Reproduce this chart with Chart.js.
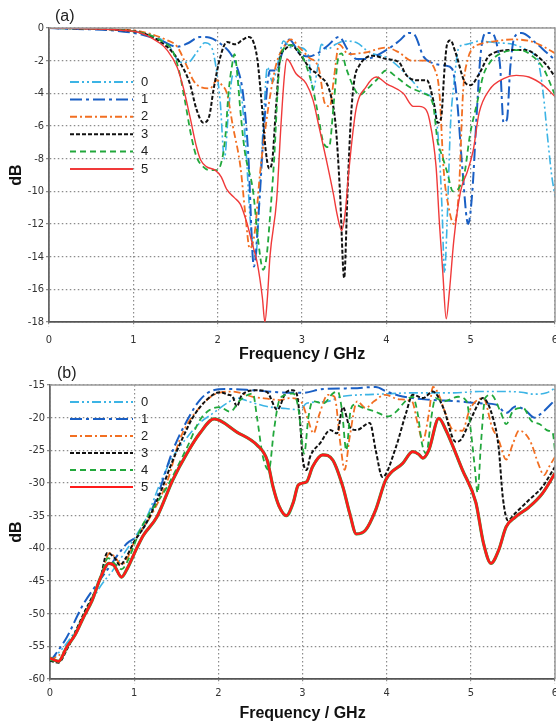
<!DOCTYPE html>
<html>
<head>
<meta charset="utf-8">
<title>S-parameter curves</title>
<script src="https://cdn.jsdelivr.net/npm/chart.js@4.4.1/dist/chart.umd.min.js"></script>
<style>
  html, body { margin: 0; padding: 0; background: #fff; }
  #wrap { position: relative; width: 556px; height: 723px; overflow: hidden; }
  #wrap canvas { position: absolute; left: 0; }
  #chartA { top: 0; }
  #chartB { top: 366px; }
  .panel { position: absolute; font: 16px "Liberation Sans", Arial, sans-serif; color: #222; line-height: 18px; }
</style>
</head>
<body>
<div id="wrap">
  <canvas id="chartA" width="556" height="366"></canvas>
  <canvas id="chartB" width="556" height="357"></canvas>
  <div class="panel" style="left:55px; top:7px">(a)</div>
  <div class="panel" style="left:57px; top:364px">(b)</div>
</div>

<script>
// legend labels / series styles
const names = ['0', '1', '2', '3', '4', '5']
const colors = ['#3cb4e5', '#1a5fc4', '#f26f22', '#111111', '#22a83c', '#f03a3a']
const dashes = [[9, 3, 2, 3, 2, 3], [12, 4, 3, 4], [7, 3, 2, 3], [4, 2], [6, 4], []]

// x axis ticks (GHz)
const freqTicks = [0, 1, 2, 3, 4, 5, 6]

// (a) curves: [frequency GHz, dB]
const a0 = [[0,0],[1.0,-0.2],[1.3,-0.6],[1.45,-1.3],[1.55,-2.1],[1.65,-2.1],[1.75,-1.5],[1.85,-0.9],[1.93,-1.2],[1.98,-2.4],[2.03,-4.5],[2.08,-8],[2.13,-5],[2.18,-2.9],[2.27,-3.7],[2.33,-7],[2.39,-12],[2.45,-14],[2.5,-10],[2.55,-5],[2.59,-2.4],[2.65,-3.3],[2.72,-2.0],[2.78,-0.8],[2.87,-1.2],[2.97,-1.2],[3.07,-1.6],[3.13,-3.8],[3.18,-2.6],[3.23,-1.0],[3.3,-1.3],[3.4,-1.0],[3.5,-0.8],[3.65,-0.9],[3.8,-1.5],[4.0,-1.8],[4.15,-2.4],[4.3,-3.2],[4.45,-4.0],[4.55,-4.4],[4.62,-7],[4.66,-11],[4.69,-15],[4.72,-12],[4.76,-6],[4.8,-3.5],[4.86,-1.2],[4.95,-1.0],[5.1,-0.8],[5.3,-0.9],[5.5,-1.0],[5.65,-1.3],[5.75,-1.6],[5.8,-2.0],[5.86,-4.0],[5.91,-6.6],[5.96,-9.0],[6.0,-10.3]]
const a1 = [[0,0],[1.0,-0.3],[1.32,-0.75],[1.52,-1.15],[1.64,-0.95],[1.79,-0.55],[1.91,-0.6],[2.03,-0.95],[2.15,-1.55],[2.23,-2.4],[2.3,-4.0],[2.36,-7.5],[2.43,-14.6],[2.49,-11],[2.55,-6],[2.62,-2.6],[2.7,-2.6],[2.76,-1.6],[2.85,-0.7],[2.97,-1.55],[3.08,-1.75],[3.2,-1.5],[3.3,-1.1],[3.44,-0.55],[3.55,-1.4],[3.65,-1.9],[3.75,-1.9],[4.0,-1.35],[4.15,-0.8],[4.27,-0.3],[4.34,-0.45],[4.44,-1.75],[4.55,-2.15],[4.7,-2.3],[4.78,-2.5],[4.84,-4.5],[4.9,-8.5],[4.97,-12],[5.02,-10],[5.07,-5.4],[5.12,-1.5],[5.18,-0.3],[5.25,-0.3],[5.31,-1.0],[5.35,-2.4],[5.39,-5.8],[5.43,-5.6],[5.47,-2.4],[5.52,-0.55],[5.6,-0.3],[5.78,-0.95],[5.9,-1.5],[6.0,-1.95]]
const a2 = [[0,0],[1.0,-0.15],[1.4,-0.75],[1.52,-1.15],[1.64,-2.4],[1.71,-3.2],[1.79,-3.6],[1.91,-3.7],[1.99,-3.2],[2.05,-3.5],[2.11,-4.0],[2.18,-6.0],[2.27,-8.5],[2.33,-11.5],[2.38,-13.5],[2.44,-12.5],[2.5,-9],[2.57,-6],[2.63,-3.9],[2.7,-2.1],[2.78,-1.2],[2.87,-0.7],[2.97,-1.2],[3.08,-1.8],[3.2,-2.5],[3.27,-4.6],[3.33,-4.8],[3.38,-3.0],[3.44,-1.0],[3.55,-1.6],[3.75,-1.5],[4.0,-1.2],[4.15,-1.5],[4.3,-2.0],[4.45,-2.0],[4.58,-2.6],[4.63,-4],[4.68,-8.7],[4.74,-11],[4.8,-12],[4.86,-10],[4.91,-3.9],[4.97,-1.85],[5.03,-1.2],[5.1,-1.0],[5.3,-0.8],[5.5,-0.7],[5.7,-0.8],[5.85,-1.1],[6.0,-1.55]]
const a3 = [[0,0],[1.0,-0.2],[1.4,-1.15],[1.55,-2.1],[1.67,-3.4],[1.75,-5.0],[1.83,-5.8],[1.9,-5.4],[1.95,-3.8],[2.03,-1.8],[2.11,-0.85],[2.21,-1.0],[2.3,-0.7],[2.37,-0.55],[2.42,-0.8],[2.47,-1.9],[2.52,-4.5],[2.57,-7.5],[2.61,-8.6],[2.65,-8.0],[2.69,-5.0],[2.74,-1.85],[2.8,-1.3],[2.87,-1.05],[2.98,-1.65],[3.1,-2.5],[3.2,-2.9],[3.33,-3.9],[3.4,-6],[3.45,-10],[3.5,-15.3],[3.54,-10],[3.58,-5.5],[3.62,-3.2],[3.68,-2.3],[3.84,-1.7],[4.0,-1.9],[4.15,-2.1],[4.24,-2.9],[4.36,-3.2],[4.48,-3.2],[4.56,-4.5],[4.61,-5.8],[4.65,-5.5],[4.69,-2.5],[4.72,-1.0],[4.76,-0.75],[4.82,-1.5],[4.93,-3.3],[5.0,-3.5],[5.09,-2.9],[5.23,-1.65],[5.5,-1.35],[5.65,-1.35],[5.82,-1.85],[5.92,-2.4],[6.0,-3.0]]
const a4 = [[0,0],[1.0,-0.2],[1.35,-0.85],[1.47,-1.45],[1.55,-2.8],[1.61,-4.4],[1.69,-6.7],[1.75,-7.9],[1.83,-8.5],[1.9,-8.7],[1.98,-8.7],[2.04,-8.3],[2.09,-6.7],[2.13,-3.9],[2.17,-2.3],[2.2,-1.6],[2.23,-2.7],[2.27,-5.1],[2.32,-7.5],[2.42,-10],[2.48,-13],[2.54,-14.8],[2.58,-14],[2.62,-11.6],[2.67,-8],[2.72,-3.1],[2.76,-1.5],[2.86,-1.05],[2.98,-1.5],[3.06,-2.45],[3.12,-3.5],[3.18,-5.0],[3.26,-7.1],[3.32,-7.3],[3.38,-4.4],[3.43,-1.8],[3.47,-1.55],[3.52,-2.4],[3.61,-3.6],[3.68,-4.1],[3.76,-3.8],[3.88,-3.2],[4.0,-2.6],[4.12,-3.0],[4.27,-3.6],[4.44,-4.0],[4.55,-4.6],[4.61,-7],[4.66,-7.8],[4.72,-8.8],[4.79,-10],[4.86,-9.8],[4.93,-8.8],[4.99,-6.6],[5.08,-4.5],[5.15,-2.9],[5.23,-2.1],[5.38,-1.5],[5.58,-1.35],[5.74,-1.75],[5.86,-2.45],[6.0,-4.1]]
const a5 = [[0,0],[1.0,-0.2],[1.32,-0.95],[1.4,-1.35],[1.52,-2.4],[1.59,-3.6],[1.67,-5.4],[1.75,-7.3],[1.8,-8.1],[1.87,-8.5],[1.97,-8.7],[2.04,-9.1],[2.11,-9.9],[2.2,-10.4],[2.27,-10.8],[2.35,-12],[2.41,-13.2],[2.47,-14.4],[2.53,-16.5],[2.56,-18],[2.59,-16.5],[2.62,-14],[2.7,-10.5],[2.75,-6],[2.79,-3],[2.82,-1.9],[2.93,-2.8],[3.05,-3.4],[3.13,-4.4],[3.2,-6.0],[3.29,-8.1],[3.37,-10.1],[3.42,-11.5],[3.47,-12.4],[3.51,-11.4],[3.56,-8.5],[3.64,-5.0],[3.76,-3.6],[3.88,-3.0],[4.0,-3.4],[4.2,-4.0],[4.32,-4.8],[4.39,-4.8],[4.47,-5.0],[4.51,-5.6],[4.59,-8.5],[4.63,-12],[4.67,-15],[4.71,-17.8],[4.75,-16],[4.8,-13],[4.88,-10],[4.96,-8.8],[5.03,-7.5],[5.1,-5.2],[5.22,-3.8],[5.39,-3.1],[5.54,-2.9],[5.69,-3.0],[5.86,-3.5],[6.0,-4.2]]

// (b) curves: [frequency GHz, dB]
const b0 = [[0,-57.4],[0.2,-54.5],[0.4,-50.5],[0.59,-46],[0.75,-43.3],[0.91,-40.2],[1.0,-38.5],[1.15,-35.2],[1.31,-30],[1.46,-26],[1.63,-23],[1.78,-20.8],[1.94,-19.3],[2.1,-17.8],[2.22,-17],[2.38,-17.6],[2.58,-18.3],[2.8,-18.6],[2.97,-18.8],[3.05,-17.8],[3.3,-17.5],[3.45,-16.8],[3.7,-16.5],[3.92,-16.4],[4.3,-16.2],[4.8,-16.2],[5.1,-16],[5.4,-16],[5.6,-16.1],[5.75,-16.4],[5.9,-16.2],[6.0,-15.5]]
const b1 = [[0,-57.4],[0.2,-53.6],[0.39,-48.7],[0.59,-44.9],[0.68,-43.3],[0.91,-39.3],[1.07,-37.7],[1.27,-32.2],[1.46,-25],[1.63,-20.4],[1.78,-17.3],[1.94,-15.8],[2.1,-15.6],[2.4,-15.8],[2.7,-16.1],[3.0,-16.2],[3.25,-15.6],[3.6,-15.5],[3.87,-15.3],[4.0,-16],[4.14,-16.6],[4.45,-17.2],[4.85,-17.5],[5.1,-17.8],[5.3,-18],[5.42,-19.3],[5.53,-18.3],[5.64,-18.8],[5.76,-20],[5.85,-19.2],[6.0,-17.3]]
const b2 = [[0,-57.2],[0.2,-55.3],[0.4,-50.5],[0.6,-44.5],[0.71,-40.7],[0.78,-41.5],[0.85,-42.5],[0.92,-41.5],[1.0,-39],[1.2,-35],[1.4,-29.5],[1.54,-23.4],[1.78,-18.4],[1.98,-16.3],[2.17,-16],[2.41,-16.8],[2.58,-17.1],[2.73,-17.3],[2.85,-17.0],[2.98,-17.5],[3.07,-20.5],[3.13,-22.4],[3.2,-19.5],[3.3,-16.5],[3.38,-16.8],[3.45,-24],[3.5,-28],[3.56,-23],[3.65,-17.5],[3.75,-18.5],[3.85,-17.5],[3.98,-16.5],[4.15,-17.2],[4.3,-17.5],[4.37,-21],[4.43,-23.5],[4.5,-19.5],[4.55,-15.3],[4.62,-16.5],[4.7,-19.4],[4.79,-21.9],[4.9,-22],[4.98,-19],[5.05,-17.6],[5.15,-17],[5.25,-21.4],[5.33,-23.4],[5.42,-26.4],[5.5,-24],[5.57,-22],[5.65,-22.5],[5.72,-24],[5.8,-27],[5.87,-28.8],[5.93,-27.5],[6.0,-26]]
const b3 = [[0,-57.2],[0.1,-57.5],[0.2,-55.5],[0.4,-50],[0.6,-44.5],[0.68,-40.7],[0.77,-41.5],[0.83,-42.6],[0.9,-41.5],[1.0,-39],[1.15,-36],[1.31,-31.5],[1.46,-26.5],[1.58,-23],[1.7,-19.9],[1.86,-17.3],[2.02,-16.1],[2.12,-16.5],[2.17,-16.8],[2.22,-18.3],[2.28,-16.5],[2.46,-15.8],[2.58,-16.1],[2.7,-18.8],[2.8,-16.2],[2.88,-15.8],[2.93,-16.3],[2.97,-20.4],[3.0,-26],[3.05,-28],[3.09,-26],[3.21,-23.9],[3.33,-21.9],[3.41,-22.4],[3.48,-18.4],[3.56,-21.4],[3.64,-21.9],[3.8,-20.8],[3.87,-25],[3.95,-29.1],[4.11,-24.5],[4.23,-19.3],[4.31,-16.5],[4.43,-17],[4.55,-16],[4.67,-18.4],[4.82,-23.7],[4.88,-23.4],[4.98,-20.8],[5.1,-17.6],[5.14,-17],[5.26,-19.9],[5.33,-24.5],[5.38,-32.2],[5.44,-35.7],[5.53,-34.6],[5.69,-32.6],[5.85,-30.6],[6.0,-27.5]]
const b4 = [[0,-57.1],[0.1,-57.3],[0.2,-55.3],[0.4,-50.5],[0.6,-44.5],[0.69,-41.5],[0.78,-42.5],[0.85,-43.2],[0.92,-42],[1.0,-39.5],[1.07,-37.2],[1.39,-30.6],[1.63,-24.5],[1.78,-20.4],[1.9,-18.8],[2.02,-18.4],[2.14,-19.1],[2.26,-17.3],[2.41,-16.3],[2.46,-20],[2.53,-26],[2.6,-28],[2.66,-22],[2.72,-17.5],[2.8,-16.5],[2.89,-16.3],[2.95,-18.5],[3.02,-25.5],[3.07,-20],[3.12,-17.5],[3.25,-17.8],[3.36,-16.3],[3.42,-16],[3.47,-19],[3.52,-25],[3.57,-19],[3.62,-18],[3.72,-18.5],[3.85,-19],[4.02,-19.8],[4.12,-19],[4.22,-17.5],[4.31,-16.8],[4.37,-19.5],[4.42,-24],[4.47,-25.5],[4.53,-20],[4.58,-17],[4.68,-17.5],[4.85,-16.8],[4.95,-17.5],[5.0,-22],[5.05,-28],[5.08,-31.5],[5.12,-24],[5.17,-17],[5.24,-16.5],[5.35,-19],[5.42,-21],[5.5,-19],[5.62,-18.5],[5.72,-20.5],[5.82,-21],[5.92,-22],[5.97,-22.2],[6.0,-25]]
const b5 = [[0,-56.8],[0.1,-57.3],[0.2,-55.1],[0.3,-53.2],[0.4,-50.5],[0.5,-48],[0.6,-44.5],[0.7,-42.3],[0.76,-42.6],[0.85,-44.4],[0.91,-43.3],[1.03,-40],[1.11,-38],[1.27,-35.2],[1.46,-29.5],[1.63,-25.4],[1.78,-22.4],[1.95,-20.2],[2.22,-22.2],[2.46,-24.2],[2.58,-26.5],[2.65,-30.6],[2.72,-33.5],[2.81,-35],[2.89,-33],[2.95,-30.3],[3.05,-29.8],[3.12,-27.5],[3.24,-25.7],[3.36,-26.5],[3.48,-30.6],[3.56,-34.6],[3.64,-37.8],[3.75,-37.2],[3.87,-34.1],[3.99,-29.5],[4.19,-27],[4.31,-25.2],[4.38,-25.6],[4.43,-26.2],[4.5,-25],[4.62,-20.1],[4.7,-21.8],[4.9,-28],[5.06,-33],[5.15,-39.2],[5.24,-42.3],[5.33,-40.3],[5.42,-36.7],[5.53,-35.2],[5.69,-33.7],[5.85,-31.6],[6.0,-28.5]]

const tickFont = { family: '"Liberation Sans Narrow", "DejaVu Sans Condensed", "Liberation Sans", sans-serif', size: 11 }
const titleFont = { family: '"Liberation Sans", Arial, sans-serif', size: 16, weight: 'bold' }

const toPoints = pairs => pairs.map(([x, y]) => ({ x, y }))

function buildDatasets(series, widths) {
  return series.map((pairs, i) => ({
    label: names[i],
    data: toPoints(pairs),
    borderColor: colors[i],
    borderWidth: widths[i],
    borderDash: dashes[i],
    order: names.length - i, // later series on top
    pointRadius: 0,
    cubicInterpolationMode: 'monotone',
    fill: false
  }))
}

// legend drawn inside the plot, left side
const insideLegend = {
  id: 'insideLegend',
  afterDatasetsDraw(chart, args, opts) {
    const { ctx } = chart
    ctx.save()
    ctx.font = '13px "Liberation Sans", Arial, sans-serif'
    ctx.textBaseline = 'middle'
    ctx.fillStyle = '#222'
    names.forEach((name, i) => {
      const ds = chart.data.datasets[i]
      const y = opts.top + i * opts.step
      ctx.strokeStyle = ds.borderColor
      ctx.lineWidth = 2
      ctx.setLineDash(ds.borderDash)
      ctx.beginPath()
      ctx.moveTo(70, y)
      ctx.lineTo(133, y)
      ctx.stroke()
      ctx.setLineDash([])
      ctx.fillText(name, 141, y)
    })
    ctx.restore()
  }
}

// grey top/right frame of the plot box
const plotFrame = {
  id: 'plotFrame',
  afterDatasetsDraw(chart) {
    const { ctx, chartArea: a } = chart
    ctx.save()
    ctx.strokeStyle = '#9a9a9a'
    ctx.lineWidth = 1.5
    ctx.beginPath()
    ctx.moveTo(a.left, a.top)
    ctx.lineTo(a.right, a.top)
    ctx.lineTo(a.right, a.bottom)
    ctx.stroke()
    ctx.restore()
  }
}

function makeChart(id, datasets, o) {
  return new Chart(document.getElementById(id), {
    type: 'line',
    data: { datasets },
    plugins: [insideLegend, plotFrame],
    options: {
      responsive: false,
      animation: false,
      layout: { padding: { top: o.top, right: 1, left: 0, bottom: 0 } },
      plugins: {
        legend: { display: false },
        tooltip: { enabled: false },
        insideLegend: { top: o.legendTop, step: o.legendStep }
      },
      scales: {
        x: {
          type: 'linear',
          min: 0,
          max: 6,
          afterBuildTicks: s => { s.ticks = freqTicks.map(v => ({ value: v })) },
          ticks: { color: '#333', font: tickFont, padding: o.xPad, maxRotation: 0 },
          grid: { color: '#8c8c8c', lineWidth: 1.2, tickLength: 5, tickColor: '#8c8c8c', tickBorderDash: [1.5, 2.5] },
          border: { color: '#555', width: 1.8, dash: [1.5, 2.5] },
          title: { display: true, text: 'Frequency / GHz', color: '#111', font: titleFont, padding: { top: 0, bottom: o.titlePad } },
          afterFit: s => { s.height = 44; s.paddingLeft = 0; s.paddingRight = 0 }
        },
        y: {
          min: o.yMin,
          max: o.yMax,
          ticks: { stepSize: o.yStep, color: '#333', font: tickFont, padding: 2 },
          grid: { color: '#8c8c8c', lineWidth: 1.2, tickLength: 3, tickColor: '#8c8c8c' },
          border: { color: '#666', width: 1.8, dash: [1.5, 2.5] },
          title: { display: true, text: 'dB', color: '#111', font: titleFont, padding: { top: 7, bottom: 0 } },
          afterFit: s => { s.width = o.yWidth; s.paddingTop = 0; s.paddingBottom = 0 }
        }
      }
    }
  })
}

// (a)
makeChart('chartA', buildDatasets([a0, a1, a2, a3, a4, a5], [1.6, 2, 1.8, 2, 1.8, 1.4]), {
  top: 28, yMin: -18, yMax: 0, yStep: 2, yWidth: 49, xPad: 7, titlePad: 2,
  legendTop: 82, legendStep: 17.4
})

// (b) - the red curve is brighter and has a thin green trace underneath
const dsB = buildDatasets([b0, b1, b2, b3, b4, b5], [1.6, 2, 1.8, 2, 1.8, 2.6])
dsB[5].borderColor = '#ff1a1a'
dsB.push({
  data: toPoints(b5),
  borderColor: '#2aa84a',
  borderWidth: 3.2,
  order: 1.5,
  pointRadius: 0,
  cubicInterpolationMode: 'monotone',
  fill: false
})
makeChart('chartB', dsB, {
  top: 19, yMin: -60, yMax: -15, yStep: 5, yWidth: 50, xPad: 3, titlePad: 0,
  legendTop: 36, legendStep: 17
})
</script>
</body>
</html>
